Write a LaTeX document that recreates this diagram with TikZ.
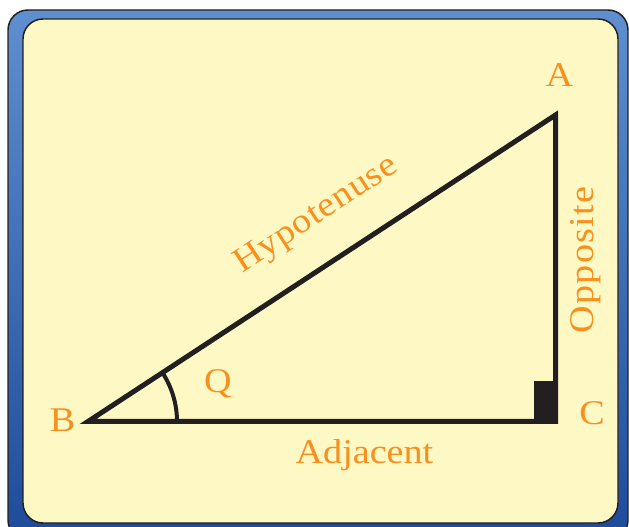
\documentclass[tikz,border=0pt]{standalone}
\usepackage{fontspec}
\setmainfont{Liberation Serif}[FakeStretch=1.1]
\usetikzlibrary{calc}
\definecolor{corange}{HTML}{F7901E}
\definecolor{cink}{HTML}{231F20}
\definecolor{cpaper}{HTML}{FEF8C4}
\definecolor{cbluetop}{HTML}{5E8FCF}
\definecolor{cbluebot}{HTML}{1D4B9A}
\tikzset{
  frame/.style={draw=cink, line width=1.1pt, rounded corners=15pt},
  side/.style={draw=cink, line width=3.75pt},
  anglemark/.style={draw=cink, line width=3pt},
  lbl/.style={text=corange, font=\fontsize{26}{31}\selectfont, inner sep=0pt, anchor=base},
}

\begin{document}
\begin{tikzpicture}[x=0.75pt, y=0.75pt]
  \useasboundingbox (0,0) rectangle (629,527);
  % board
  \shade[frame, top color=cbluetop, bottom color=cbluebot] (8,-13) rectangle (628,517);
  \filldraw[frame, fill=cpaper] (23,4) rectangle (618,508);
  % vertices
  \coordinate (B) at (88,105.5);
  \coordinate (C) at (555.5,105.5);
  \coordinate (A) at (555.5,412);
  \draw[side] (B) -- (A) -- (C) -- cycle;
  \fill[cink] ($(C)+(-22,0)$) rectangle ($(C)+(0,40)$);
  \draw[anglemark] ($(B)+(89,0)$) arc[start angle=0, end angle=33.25, radius=66.75pt];
  % labels
  \node[lbl] (lA) at ($(A)+(4,28)$) {A};
  \node[lbl] (lB) at ($(B)+(-25.5,-10.5)$) {B};
  \node[lbl] (lC) at ($(C)+(36.5,-3.5)$) {C};
  \node[lbl] (lQ) at ($(B)+(130,28.5)$) {Q};
  \node[lbl, rotate=33.25, font=\fontsize{26}{31}\selectfont\addfontfeature{LetterSpace=2}] (hyp) at (321,305) {Hypotenuse};
  \node[lbl] (adj) at ($(B)+(276.5,-42.5)$) {Adjacent};
  \node[lbl, rotate=90, font=\fontsize{26}{31}\selectfont\addfontfeature{LetterSpace=4}] (opp) at ($(C)+(37.5,161.5)$) {Opposite};
\end{tikzpicture}
\end{document}
